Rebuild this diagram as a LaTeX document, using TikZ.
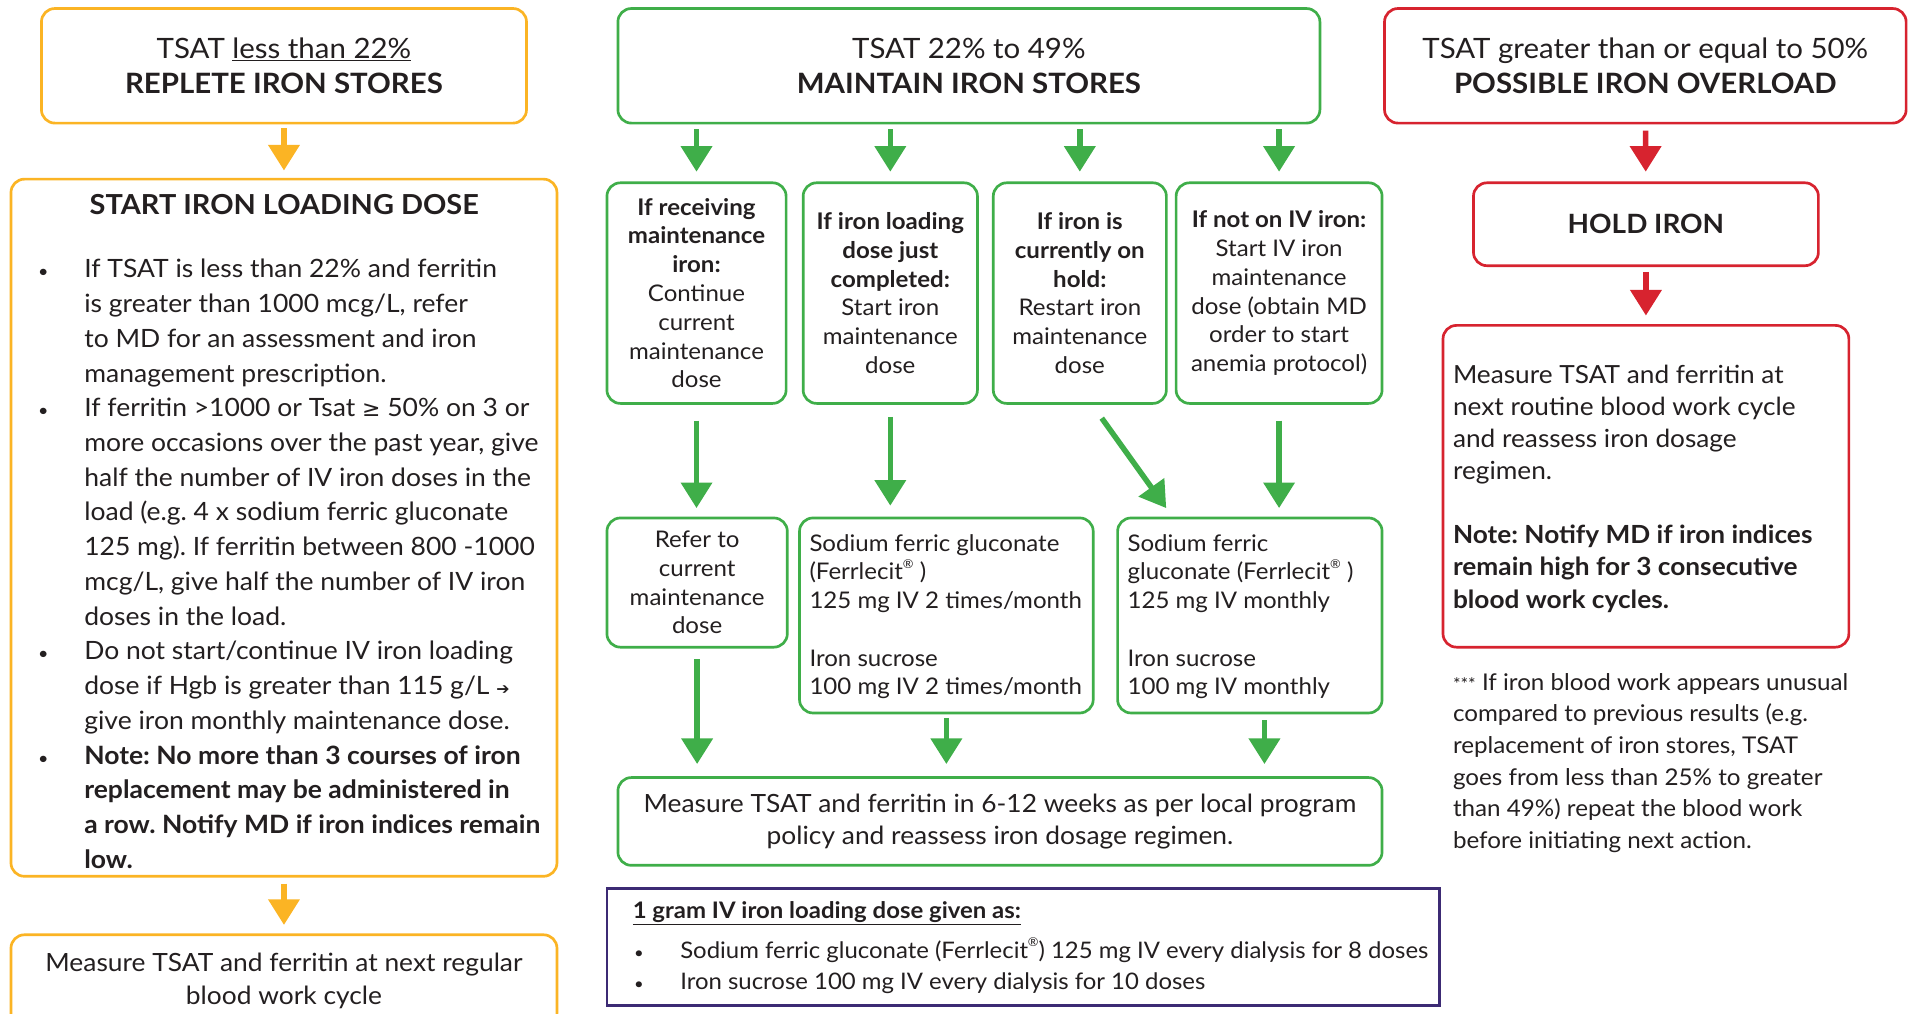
\documentclass[tikz,border=0pt]{standalone}
\usepackage{fontspec}
\setmainfont{Lato}[FakeStretch=1.05]
\newfontfamily\symfont{DejaVu Sans}
\usetikzlibrary{arrows.meta}
\definecolor{ycol}{HTML}{FBB424}
\definecolor{gcol}{HTML}{3FAE49}
\definecolor{rcol}{HTML}{D7232F}
\definecolor{pcol}{HTML}{3C2A74}
\definecolor{tcol}{HTML}{231F20}
\frenchspacing
\newcommand{\regm}{\raisebox{0.5em}{\fontsize{10}{10}\selectfont ®}}
\newcommand{\bul}{\makebox[36pt][l]{\hspace{-2pt}{\fontsize{14}{14}\selectfont •}}}
\newcommand{\ind}{\hspace*{36pt}}
\begin{document}
\begin{tikzpicture}[x=1pt,y=-1pt,
  every node/.style={text=tcol},
  box/.style={draw, line width=2.2pt, rounded corners=11pt, inner sep=0pt, align=center},
  ybox/.style={box, draw=ycol},
  gbox/.style={box, draw=gcol},
  rbox/.style={box, draw=rcol},
  pbox/.style={draw=pcol, line width=2.2pt, inner sep=0pt},
  txt/.style={inner sep=0pt, align=left, anchor=west},
  arr/.style={line width=4.5pt, -{Triangle[width=25pt,length=21pt]}},
  yarr/.style={arr, draw=ycol},
  garr/.style={arr, draw=gcol},
  rarr/.style={arr, draw=rcol},
  fhead/.style={font=\fontsize{23}{29}\selectfont},
  fmain/.style={font=\fontsize{20.7}{28.5}\selectfont},
  fmid/.style={font=\fontsize{18.8}{23.6}\selectfont},
  fG/.style={font=\fontsize{20.6}{26}\selectfont},
  fK/.style={font=\fontsize{20.5}{26.3}\selectfont},
  fnote/.style={font=\fontsize{18.9}{26}\selectfont},
  fH/.style={font=\fontsize{18.7}{26}\selectfont},
]
\clip (0,0) rectangle (1568,832);
\fill[white] (0,0) rectangle (1568,832);

% ---------- left column ----------
\node[ybox, fhead, minimum width=398pt, minimum height=94pt] (A) at (233,54)
  {TSAT \underline{less than 22\%}\\\textbf{REPLETE IRON STORES}};
\node[ybox, minimum width=448pt, minimum height=572pt] (B) at (233,433) {};
\node[txt, fmain] (Btext) at (33,436)
  {\makebox[400pt][c]{\fontsize{22.6}{22.6}\selectfont\bfseries START IRON LOADING DOSE}\\[23.5pt]
   \bul If TSAT is less than 22\% and ferritin\\
   \ind is greater than 1000 mcg/L, refer\\
   \ind to MD for an assessment and iron\\
   \ind management prescription.\\
   \bul If ferritin >1000 or Tsat {\symfont\fontsize{18}{18}\selectfont ≥} 50\% on 3 or\\
   \ind more occasions over the past year, give\\
   \ind half the number of IV iron doses in the\\
   \ind load (e.g. 4 x sodium ferric gluconate\\
   \ind 125 mg). If ferritin between 800 -1000\\
   \ind mcg/L, give half the number of IV iron\\
   \ind doses in the load.\\
   \bul Do not start/continue IV iron loading\\
   \ind dose if Hgb is greater than 115 g/L {\symfont\fontsize{13}{13}\selectfont ➔}\\
   \ind give iron monthly maintenance dose.\\
   \bul\textbf{Note: No more than 3 courses of iron}\\
   \ind\textbf{replacement may be administered in}\\
   \ind\textbf{a row. Notify MD if iron indices remain}\\
   \ind\textbf{low.}};
\node[ybox, font=\fontsize{20.6}{27}\selectfont, minimum width=448pt, minimum height=75pt] (C) at (233,804.5)
  {Measure TSAT and ferritin at next regular\\blood work cycle};
\draw[yarr, shorten <=3pt, shorten >=6pt] (A) -- (B);
\draw[yarr, shorten <=5pt, shorten >=7pt] (B) -- (C);

% ---------- middle column ----------
\node[gbox, fhead, minimum width=576pt, minimum height=94pt] (D) at (795,54)
  {TSAT 22\% to 49\%\\\textbf{MAINTAIN IRON STORES}};
\node[gbox, fmid, minimum width=147pt, minimum height=181pt] (E1) at (571.5,240.5)
  {\textbf{If receiving}\\\textbf{maintenance}\\\textbf{iron:}\\Continue\\current\\maintenance\\dose};
\node[gbox, fmid, minimum width=143pt, minimum height=181pt] (E2) at (730.5,240.5)
  {\textbf{If iron loading}\\\textbf{dose just}\\\textbf{completed:}\\Start iron\\maintenance\\dose};
\node[gbox, fmid, minimum width=142pt, minimum height=181pt] (E3) at (886,240.5)
  {\textbf{If iron is}\\\textbf{currently on}\\\textbf{hold:}\\Restart iron\\maintenance\\dose};
\node[gbox, fmid, minimum width=169pt, minimum height=181pt] (E4) at (1049.5,240.5)
  {\textbf{If not on IV iron:}\\Start IV iron\\maintenance\\dose (obtain MD\\order to start\\anemia protocol)};
\foreach \e in {E1,E2,E3,E4}
  \draw[garr, shorten <=4pt, shorten >=8pt] (D.south -| \e.north) -- (\e.north);

\node[gbox, fmid, minimum width=148pt, minimum height=106pt] (F1) at (572,478)
  {Refer to\\current\\maintenance\\dose};
\node[gbox, minimum width=241pt, minimum height=160pt] (F2) at (776.5,505) {};
\node[txt, fmid] (F2text) at (664,506)
  {Sodium ferric gluconate\\(Ferrlecit\regm\ )\\125 mg IV 2 times/month\\[23.6pt]Iron sucrose\\100 mg IV 2 times/month};
\node[gbox, minimum width=217pt, minimum height=160pt] (F3) at (1025.5,505) {};
\node[txt, fmid] (F3text) at (925,506)
  {Sodium ferric\\gluconate (Ferrlecit\regm\ )\\125 mg IV monthly\\[23.6pt]Iron sucrose\\100 mg IV monthly};

\draw[garr, shorten <=13pt, shorten >=7pt] (E1.south) -- (E1.south |- F1.north);
\draw[garr, shorten <=10pt, shorten >=9pt] (E2.south) -- (E2.south |- F2.north);
\coordinate (dstart) at ([xshift=18pt,yshift=-11pt]E3.south);
\coordinate (dend) at ([xshift=41pt,yshift=7pt]F3.north west);
\draw[garr] (dstart) -- (dend);
\draw[garr, shorten <=13pt, shorten >=7pt] (E4.south) -- (E4.south |- F3.north);

\node[gbox, fG, minimum width=627pt, minimum height=72pt] (G) at (820.5,674)
  {Measure TSAT and ferritin in 6-12 weeks as per local program\\policy and reassess iron dosage regimen.};
\draw[garr, shorten <=9pt, shorten >=10pt] (F1.south) -- (F1.south |- G.north);
\draw[garr, shorten <=3pt, shorten >=10pt] (F2.south) -- (F2.south |- G.north);
\draw[garr, shorten <=5pt, shorten >=10pt] ([xshift=12pt]F3.south) -- ([xshift=12pt]F3.south |- G.north);

\node[pbox, minimum width=683pt, minimum height=96pt] (H) at (839.5,777) {};
\node[txt, fH] (Htext) at (519,777.5)
  {\underline{\textbf{1 gram IV iron loading dose given as:}}\\[7pt]
   \makebox[39pt][l]{\hspace{1pt}{\fontsize{13}{13}\selectfont •}}Sodium ferric gluconate (Ferrlecit\regm) 125 mg IV every dialysis for 8 doses\\
   \makebox[39pt][l]{\hspace{1pt}{\fontsize{13}{13}\selectfont •}}Iron sucrose 100 mg IV every dialysis for 10 doses};

% ---------- right column ----------
\node[rbox, fhead, minimum width=428pt, minimum height=94pt] (I) at (1350,54)
  {TSAT greater than or equal to 50\%\\\textbf{POSSIBLE IRON OVERLOAD}};
\node[rbox, font=\fontsize{21.8}{21.8}\selectfont\bfseries, minimum width=283pt, minimum height=68pt] (J) at (1350.5,184)
  {HOLD IRON};
\node[rbox, minimum width=333pt, minimum height=264pt] (K) at (1350.5,399) {};
\node[txt, fK] (Ktext) at (1192,401)
  {Measure TSAT and ferritin at\\next routine blood work cycle\\and reassess iron dosage\\regimen.\\[26.3pt]
   \textbf{Note: Notify MD if iron indices}\\\textbf{remain high for 3 consecutive}\\\textbf{blood work cycles.}};
\draw[rarr, shorten <=5pt, shorten >=8pt] (I) -- (J);
\draw[rarr, shorten <=4pt, shorten >=7pt] (J) -- (K);
\node[txt, fnote] (note) at (1192,626)
  {{\fontsize{14}{14}\selectfont ***} If iron blood work appears unusual\\compared to previous results (e.g.\\replacement of iron stores, TSAT\\goes from less than 25\% to greater\\than 49\%) repeat the blood work\\before initiating next action.};
\end{tikzpicture}
\end{document}
